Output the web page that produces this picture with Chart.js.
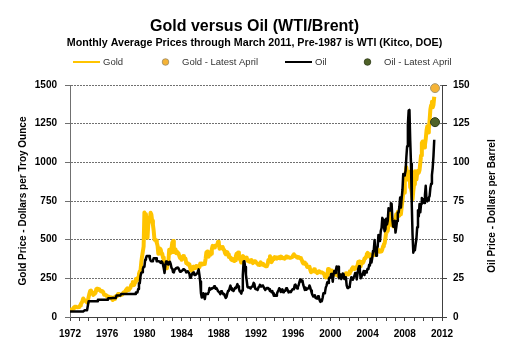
<!DOCTYPE html>
<html>
<head>
<meta charset="utf-8">
<script src="https://cdn.jsdelivr.net/npm/chart.js@4/dist/chart.umd.min.js"></script>
<style>
  html, body { margin: 0; padding: 0; background: #ffffff; }
  #wrap { width: 509px; height: 360px; }
</style>
</head>
<body>
<div id="wrap"><canvas id="c" width="509" height="360"></canvas></div>
<script>
// ---------- DATA ----------
const startYear = 1972;           // first month = Jan 1972, monthly through Mar 2011
const xTickLabels = [1972, 1976, 1980, 1984, 1988, 1992, 1996, 2000, 2004, 2008, 2012];
const goldTicks = [0, 250, 500, 750, 1000, 1250, 1500];
const oilTicks = [0, 25, 50, 75, 100, 125, 150];

// Gold, monthly average, $/troy oz
const goldMonthly = [
  46, 48, 48, 49, 54, 62, 65, 67, 65, 65, 63, 64,            // 1972
  65, 74, 84, 91, 102, 120, 120, 106, 103, 100, 94, 106,     // 1973
  129, 150, 168, 172, 163, 154, 143, 154, 151, 158, 181, 183,// 1974
  176, 180, 178, 170, 167, 164, 166, 160, 144, 143, 142, 139,// 1975
  131, 131, 132, 128, 126, 126, 118, 110, 114, 117, 130, 134,// 1976
  132, 136, 148, 149, 147, 141, 144, 145, 149, 158, 162, 161,// 1977
  173, 179, 185, 175, 177, 183, 189, 206, 212, 227, 206, 208,// 1978
  227, 246, 242, 239, 257, 279, 295, 302, 355, 392, 392, 456,// 1979
  675, 665, 554, 517, 513, 600, 644, 627, 674, 662, 623, 596,// 1980
  557, 500, 499, 495, 480, 461, 409, 411, 443, 437, 413, 410,// 1981
  384, 374, 330, 350, 334, 315, 339, 364, 435, 422, 415, 444,// 1982
  481, 491, 420, 432, 438, 413, 423, 416, 412, 394, 382, 388,// 1983
  370, 386, 394, 381, 377, 378, 348, 348, 341, 340, 341, 320,// 1984
  303, 299, 304, 325, 316, 317, 317, 330, 324, 326, 325, 322,// 1985
  345, 339, 346, 340, 342, 343, 348, 376, 418, 423, 398, 391,// 1986
  408, 401, 409, 438, 460, 450, 450, 461, 460, 465, 466, 486,// 1987
  477, 442, 444, 452, 451, 452, 437, 433, 413, 406, 420, 419,// 1988
  404, 388, 390, 384, 371, 368, 376, 365, 362, 367, 394, 409,// 1989
  410, 417, 393, 374, 369, 352, 362, 395, 389, 380, 382, 378,// 1990
  384, 364, 363, 358, 357, 367, 368, 356, 349, 359, 360, 361,// 1991
  354, 354, 345, 338, 337, 341, 353, 340, 345, 344, 335, 335,// 1992
  330, 328, 330, 342, 368, 372, 393, 378, 355, 364, 374, 383,// 1993
  387, 382, 384, 378, 381, 386, 385, 380, 391, 389, 384, 380,// 1994
  379, 377, 382, 391, 385, 388, 387, 383, 383, 383, 386, 387,// 1995
  400, 405, 396, 393, 392, 385, 383, 387, 383, 381, 378, 369,// 1996
  355, 347, 352, 344, 344, 341, 324, 324, 323, 325, 306, 289,// 1997
  289, 297, 296, 308, 299, 292, 293, 284, 289, 296, 294, 291,// 1998
  287, 288, 286, 282, 277, 261, 256, 257, 265, 311, 293, 290,// 1999
  285, 300, 286, 280, 275, 286, 281, 274, 274, 270, 266, 272,// 2000
  266, 262, 263, 261, 272, 270, 268, 273, 283, 283, 276, 275,// 2001
  282, 296, 294, 303, 314, 322, 314, 310, 319, 317, 319, 333,// 2002
  357, 359, 340, 328, 355, 356, 351, 360, 378, 379, 390, 407,// 2003
  414, 405, 406, 403, 384, 392, 398, 400, 406, 420, 439, 442,// 2004
  424, 423, 434, 429, 422, 431, 424, 438, 457, 470, 476, 510,// 2005
  550, 555, 557, 610, 676, 596, 634, 632, 599, 586, 627, 629,// 2006
  631, 665, 655, 680, 668, 655, 665, 666, 713, 755, 806, 804,// 2007
  889, 923, 968, 910, 889, 890, 940, 839, 830, 807, 761, 817,// 2008
  859, 943, 925, 890, 929, 946, 934, 950, 996, 1044, 1126, 1135, // 2009
  1117, 1096, 1114, 1149, 1205, 1233, 1193, 1215, 1271, 1343, 1370, 1392, // 2010
  1356, 1372, 1424                                           // 2011
];

// Oil, monthly average, $/barrel (WTI before 1987, Brent after)
const oilMonthly = [
  3.56, 3.56, 3.56, 3.56, 3.56, 3.56, 3.56, 3.56, 3.56, 3.56, 3.56, 3.56,       // 1972
  3.56, 3.56, 3.56, 3.56, 3.56, 3.56, 3.56, 4.31, 4.31, 4.31, 4.31, 4.31,       // 1973
  10.11, 10.11, 10.11, 10.11, 10.11, 10.11, 10.11, 10.11, 10.11, 10.11, 10.11, 10.11, // 1974
  11.16, 11.16, 11.16, 11.16, 11.16, 11.16, 11.16, 11.16, 11.16, 11.16, 11.16, 11.16, // 1975
  11.16, 12.03, 12.17, 12.17, 12.17, 12.17, 12.17, 12.23, 12.23, 12.23, 12.23, 12.23, // 1976
  13.9, 13.9, 13.9, 13.9, 13.9, 13.9, 14.85, 14.85, 14.85, 14.85, 14.85, 14.85,      // 1977
  14.85, 14.85, 14.85, 14.85, 14.85, 14.85, 14.85, 14.85, 14.85, 14.85, 14.85, 14.85, // 1978
  14.85, 15.85, 15.85, 15.85, 18.1, 21.75, 21.75, 26.5, 28.5, 29.0, 31.0, 32.5,       // 1979
  32.5, 37.0, 38.0, 39.5, 39.5, 39.5, 39.5, 38.0, 36.5, 36.0, 36.0, 36.5,             // 1980
  38.0, 38.0, 38.0, 38.0, 36.0, 36.0, 36.0, 36.0, 36.0, 35.0, 36.0, 35.5,             // 1981
  33.85, 31.56, 28.48, 33.45, 35.93, 35.07, 34.16, 33.95, 35.63, 35.68, 34.15, 31.72, // 1982
  31.18, 29.0, 28.84, 30.63, 30.99, 31.7, 31.61, 31.99, 31.52, 30.36, 29.23, 29.6,    // 1983
  29.7, 30.1, 30.8, 30.6, 30.5, 30.0, 28.8, 29.3, 29.6, 28.8, 28.1, 25.4,             // 1984
  25.6, 27.3, 28.2, 28.8, 27.6, 27.1, 27.3, 27.8, 28.3, 29.5, 30.8, 27.2,             // 1985
  22.9, 15.4, 12.6, 12.8, 15.4, 13.4, 11.6, 15.1, 14.9, 14.9, 15.2, 16.1,             // 1986
  18.7, 17.7, 18.3, 18.6, 18.58, 18.86, 19.86, 18.98, 18.31, 18.76, 17.78, 16.75,     // 1987
  16.75, 15.73, 14.73, 16.6, 16.31, 15.49, 14.71, 14.87, 13.3, 12.35, 13.1, 15.29,    // 1988
  16.93, 16.92, 18.66, 20.32, 18.54, 17.38, 17.57, 16.84, 17.9, 18.9, 18.66, 19.92,   // 1989
  21.25, 19.81, 18.39, 16.61, 16.35, 15.1, 17.17, 27.17, 35.9, 36.02, 32.4, 27.3,     // 1990
  23.6, 19.55, 19.1, 19.2, 19.2, 18.4, 19.4, 19.8, 20.4, 22.1, 21.2, 18.3,            // 1991
  18.0, 18.1, 17.5, 18.8, 19.8, 20.9, 20.2, 19.7, 20.3, 20.2, 19.3, 18.2,             // 1992
  17.5, 18.5, 18.8, 18.8, 18.6, 17.9, 16.8, 17.0, 16.1, 16.8, 15.3, 13.8,             // 1993
  14.2, 13.8, 13.7, 15.1, 16.3, 17.3, 18.6, 17.6, 16.2, 16.5, 17.9, 16.0,             // 1994
  16.6, 17.2, 17.0, 18.6, 18.4, 17.3, 15.9, 16.1, 16.6, 16.1, 17.0, 17.9,             // 1995
  17.9, 18.6, 20.6, 20.9, 19.0, 18.5, 19.6, 20.5, 22.6, 24.2, 23.0, 23.7,             // 1996
  23.5, 20.7, 19.1, 17.5, 19.0, 17.6, 18.5, 18.6, 18.6, 20.4, 19.1, 17.2,             // 1997
  15.4, 14.1, 13.2, 13.3, 14.1, 12.2, 12.1, 11.9, 13.4, 12.9, 11.0, 9.8,              // 1998
  11.1, 10.3, 12.5, 15.3, 15.3, 15.9, 19.0, 20.3, 22.5, 22.0, 24.6, 25.6,             // 1999
  25.5, 27.8, 27.5, 22.8, 27.3, 29.8, 28.5, 30.0, 32.7, 31.1, 32.5, 25.1,             // 2000
  25.6, 27.5, 24.5, 25.7, 28.1, 27.7, 24.6, 25.7, 25.6, 20.5, 18.8, 18.7,             // 2001
  19.4, 20.3, 23.7, 25.7, 25.4, 24.1, 25.7, 26.6, 28.4, 27.5, 24.3, 28.0,             // 2002
  31.2, 32.8, 30.3, 25.0, 25.8, 27.6, 28.4, 29.8, 27.1, 29.6, 28.8, 29.8,             // 2003
  31.2, 30.9, 33.8, 33.4, 37.6, 35.2, 38.2, 42.7, 43.2, 49.8, 43.1, 39.6,             // 2004
  44.5, 45.5, 53.1, 51.9, 49.1, 55.6, 57.5, 64.1, 62.9, 58.5, 55.5, 56.8,             // 2005
  63.6, 59.9, 62.3, 70.4, 70.0, 68.9, 73.6, 73.2, 62.8, 58.4, 58.9, 62.2,             // 2006
  54.6, 58.0, 62.1, 67.5, 67.5, 71.3, 77.2, 70.8, 77.1, 82.3, 92.5, 91.5,             // 2007
  92.0, 94.5, 103.3, 110.4, 124.6, 133.5, 133.9, 113.9, 99.1, 72.8, 53.2, 41.6,       // 2008
  44.9, 43.1, 47.0, 50.6, 58.1, 69.1, 65.0, 73.1, 67.7, 73.2, 77.0, 74.7,             // 2009
  76.2, 73.8, 78.8, 84.8, 75.9, 74.8, 75.6, 77.1, 78.2, 83.5, 86.2, 91.8,             // 2010
  96.5, 104.0, 114.6                                                                   // 2011
];

// Latest April 2011 values
const latestAprilX = [2011.25];
const goldLatestApril = [1480];
const oilLatestApril = [126];

// ---------- BUILD ----------
const monthX = i => startYear + i / 12;
const goldPts = goldMonthly.map((v, i) => ({ x: monthX(i), y: v }));
const oilPts = oilMonthly.map((v, i) => ({ x: monthX(i), y: v }));
const goldAprPts = latestAprilX.map((x, i) => ({ x, y: goldLatestApril[i] }));
const oilAprPts = latestAprilX.map((x, i) => ({ x, y: oilLatestApril[i] }));

const FONT = "'Liberation Sans', Arial, sans-serif";
const GOLD = '#FFC400';
const GOLD_DOT = '#F5B335';
const OIL = '#000000';
const OIL_DOT = '#4F6228';
const rightTitle = 'Oil Price - Dollars per Barrel';

const legendItems = [
  { text: 'Gold', kind: 'line', color: GOLD, x: 73 },
  { text: 'Gold - Latest April', kind: 'dot', color: GOLD_DOT, border: '#9a8a6a', x: 152 },
  { text: 'Oil', kind: 'line', color: OIL, x: 285 },
  { text: 'Oil - Latest April', kind: 'dot', color: OIL_DOT, border: '#2d3a17', x: 354 }
];

const customLegend = {
  id: 'customLegend',
  afterDraw(chart) {
    const ctx = chart.ctx;
    const y = 62;
    ctx.save();
    ctx.font = '9.5px ' + FONT;
    ctx.textBaseline = 'middle';
    ctx.textAlign = 'left';
    legendItems.forEach(it => {
      if (it.kind === 'line') {
        ctx.strokeStyle = it.color;
        ctx.lineWidth = 2;
        ctx.beginPath();
        ctx.moveTo(it.x, y);
        ctx.lineTo(it.x + 27, y);
        ctx.stroke();
      } else {
        ctx.fillStyle = it.color;
        ctx.strokeStyle = it.border;
        ctx.lineWidth = 0.8;
        ctx.beginPath();
        ctx.arc(it.x + 13.5, y, 3.3, 0, Math.PI * 2);
        ctx.fill();
        ctx.stroke();
      }
      ctx.fillStyle = '#333333';
      ctx.fillText(it.text, it.x + 30, y + 0.5);
    });
    // right axis title, reading bottom-to-top like the left one
    const area = chart.chartArea;
    ctx.translate(492, (area.top + area.bottom) / 2 + 5);
    ctx.rotate(-Math.PI / 2);
    ctx.font = 'bold 10px ' + FONT;
    ctx.textAlign = 'center';
    ctx.fillStyle = '#000';
    ctx.fillText(rightTitle, 0, 0);
    ctx.restore();
  }
};

const tickFont = { family: FONT, size: 10, weight: 'bold' };
const plain = v => String(v);

new Chart(document.getElementById('c'), {
  type: 'line',
  data: {
    datasets: [
      { label: 'Gold - Latest April', data: goldAprPts, yAxisID: 'y', showLine: false,
        pointRadius: 4.5, pointBackgroundColor: GOLD_DOT, pointBorderColor: '#a89870',
        pointBorderWidth: 1, order: -2, clip: false },
      { label: 'Oil - Latest April', data: oilAprPts, yAxisID: 'y2', showLine: false,
        pointRadius: 4.5, pointBackgroundColor: OIL_DOT, pointBorderColor: '#2d3a17',
        pointBorderWidth: 1, order: -1, clip: false },
      { label: 'Oil', data: oilPts, yAxisID: 'y2', borderColor: OIL, borderWidth: 2.5,
        pointRadius: 0, tension: 0, order: 0, borderJoinStyle: 'round' },
      { label: 'Gold', data: goldPts, yAxisID: 'y', borderColor: GOLD, borderWidth: 4,
        pointRadius: 0, tension: 0, order: 1, borderJoinStyle: 'round' }
    ]
  },
  options: {
    responsive: false,
    animation: false,
    devicePixelRatio: 1,
    layout: { padding: 0 },
    plugins: {
      legend: { display: false },
      tooltip: { enabled: false },
      title: {
        display: true,
        text: 'Gold versus Oil (WTI/Brent)',
        color: '#000',
        font: { family: FONT, size: 16, weight: 'bold' },
        padding: { top: 17, bottom: 0 }
      },
      subtitle: {
        display: true,
        text: 'Monthly Average Prices through March 2011, Pre-1987 is WTI (Kitco, DOE)',
        color: '#000',
        font: { family: FONT, size: 10.7, weight: 'bold' },
        padding: { top: 0, bottom: 36 }
      }
    },
    scales: {
      x: {
        type: 'linear',
        min: 1972, max: 2012,
        afterFit(s) { s.height = 43; },
        ticks: {
          stepSize: 1, autoSkip: false, maxRotation: 0, minRotation: 0,
          padding: 7, color: '#000', font: tickFont,
          callback: v => xTickLabels.includes(v) ? String(v) : ''
        },
        grid: { drawOnChartArea: false, drawTicks: true, tickLength: 4, color: '#404040', lineWidth: 1 },
        border: { display: true, color: '#404040', width: 1 }
      },
      y: {
        type: 'linear', position: 'left',
        min: 0, max: 1500,
        afterFit(s) { s.width = 70; },
        afterBuildTicks(s) { s.ticks = goldTicks.map(v => ({ value: v })); },
        ticks: { padding: 8, color: '#000', font: tickFont, callback: plain },
        grid: { color: '#707070', lineWidth: 1, tickLength: 5, drawTicks: true },
        border: { display: true, color: '#707070', width: 1, dash: [2, 1] },
        title: {
          display: true,
          text: 'Gold Price - Dollars per Troy Ounce',
          color: '#000',
          font: { family: FONT, size: 10, weight: 'bold' },
          padding: { top: 17, bottom: 0 }
        }
      },
      y2: {
        type: 'linear', position: 'right',
        min: 0, max: 150,
        afterFit(s) { s.width = 67; },
        afterBuildTicks(s) { s.ticks = oilTicks.map(v => ({ value: v })); },
        ticks: { padding: 6, color: '#000', font: tickFont, callback: plain },
        grid: { drawOnChartArea: false, drawTicks: true, tickLength: 5, color: '#404040' },
        border: { display: true, color: '#404040', width: 1 },
        title: { display: false }
      }
    }
  },
  plugins: [customLegend]
});
</script>
</body>
</html>
